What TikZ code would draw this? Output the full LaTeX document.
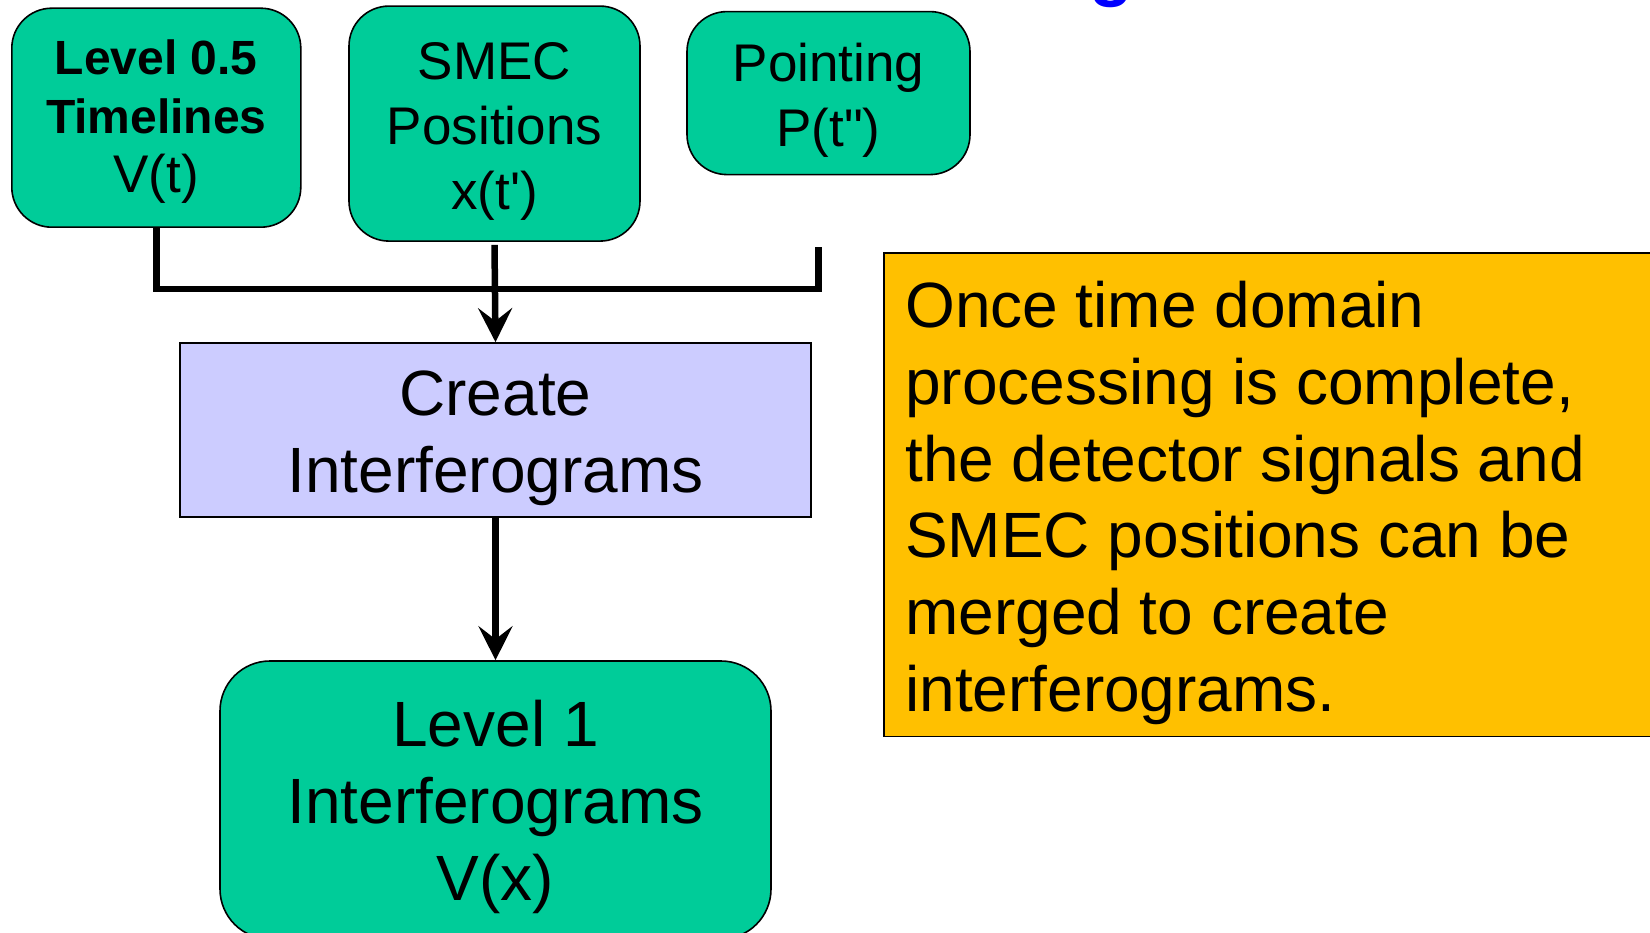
\documentclass[tikz,border=0pt]{standalone}
\usepackage{fontspec}
\setmainfont{Liberation Sans}[Ligatures=TeXOff]
\usetikzlibrary{arrows.meta}
\definecolor{boxgreen}{HTML}{00CC99}
\definecolor{boxlav}{HTML}{CCCCFF}
\definecolor{noteorange}{HTML}{FFC000}
\definecolor{titleblue}{HTML}{0000FF}
% invisible strut that lifts the first line of a box label
\newcommand{\toplift}[1]{\rule{0pt}{#1}}
\tikzset{
  databox/.style={draw=black, line width=1.6pt, fill=boxgreen, rounded corners=40pt,
    align=center, inner sep=0pt, font=\fontsize{53}{65}\selectfont},
  bigbox/.style={draw=black, line width=1.6pt, fill=boxgreen, rounded corners=50pt,
    align=center, inner sep=0pt, font=\fontsize{64}{77}\selectfont},
  procbox/.style={draw=black, line width=1.6pt, fill=boxlav,
    align=center, inner sep=0pt, font=\fontsize{64}{77}\selectfont},
  notebox/.style={draw=black, line width=1.6pt, fill=noteorange, inner sep=0pt},
  notetext/.style={align=left, inner sep=0pt, font=\fontsize{64}{76.8}\selectfont},
  bus/.style={line width=6.5pt},
  flow/.style={line width=6.5pt, -{Stealth[length=34pt,width=34pt,inset=13pt]}},
}
\begin{document}
\begin{tikzpicture}[x=1pt,y=-1pt]
\useasboundingbox (0,0) rectangle (1650,933);

% title descender peeking in at the top edge
\node[anchor=base, inner sep=0pt, text=titleblue, font=\fontsize{72}{80}\selectfont\bfseries] (titleg) at (1111,-7) {g};

% input products
\node[databox, font=\fontsize{48}{59}\selectfont, minimum width=289pt, minimum height=219pt] (lvl05) at (156.3,117.7)
  {\toplift{43pt}\textbf{Level 0.5}\\\textbf{Timelines}\\{\fontsize{53}{59}\selectfont V(t)}};
\node[databox, minimum width=291pt, minimum height=235pt] (smec) at (494.5,123.6)
  {\toplift{53pt}SMEC\\Positions\\x(t')};
\node[databox, minimum width=283pt, minimum height=163pt] (point) at (828.5,93.1)
  {\toplift{53pt}Pointing\\P(t")};

% processing step and output product
\node[procbox, minimum width=631pt, minimum height=174pt] (create) at (495.5,430)
  {\toplift{61pt}Create\\Interferograms};
\node[bigbox, minimum width=551pt, minimum height=278pt] (lvl1) at (495.5,800)
  {\toplift{61pt}Level 1\\Interferograms\\V(x)};

% explanatory note
\node[notebox, anchor=north west, minimum width=800pt, minimum height=483pt] (note) at (883,252.5) {};
\node[notetext, anchor=north west] (notetxt) at (905,281)
  {Once time domain\\processing is complete,\\the detector signals and\\SMEC positions can be\\merged to create\\interferograms.};

% merging bus
\coordinate (pend) at (818.5,247);
\coordinate (busy) at (0,289);
\draw[bus] (lvl05.south) -- (lvl05.south |- busy) -- (pend |- busy) -- (pend);
\draw[flow] ([yshift=-3pt]smec.south) -- (create.north);
\draw[flow] (create.south) -- (lvl1.north);
\end{tikzpicture}
\end{document}
